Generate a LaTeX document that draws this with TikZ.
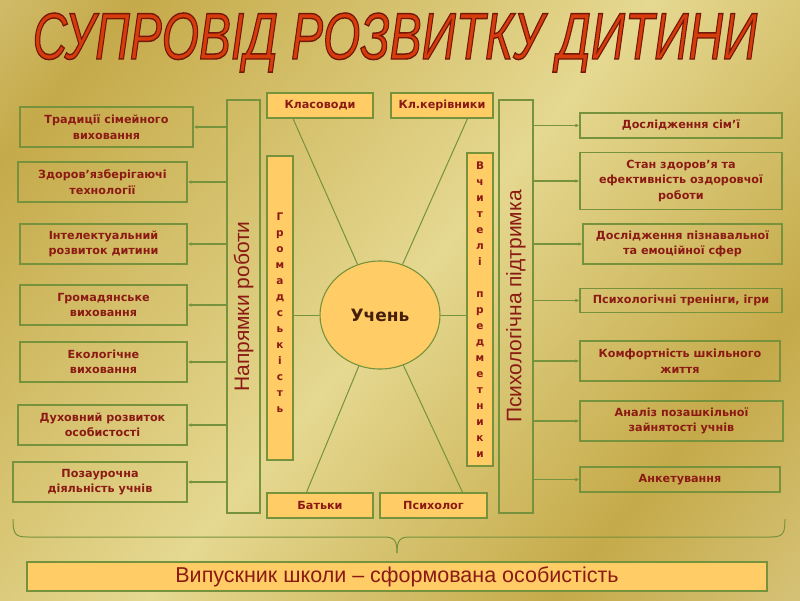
\documentclass[tikz,border=0pt]{standalone}
\usepackage{fontspec}
\usepackage{graphicx}
\setmainfont{DejaVu Sans}
\newfontfamily\arialf{Liberation Sans}
\usetikzlibrary{arrows.meta,calc,shapes.geometric}
\definecolor{bgL}{HTML}{E8DDA8}
\definecolor{bgD}{HTML}{C5AA4A}
\definecolor{bgM}{HTML}{E5D890}
\definecolor{grn}{RGB}{118,146,60}
\definecolor{dred}{RGB}{140,26,20}
\definecolor{orf}{RGB}{255,204,102}
\definecolor{tred}{RGB}{214,60,12}
\definecolor{uchc}{RGB}{70,30,12}
\pgfdeclarehorizontalshading{bgshade}{100bp}{color(0bp)=(bgL); color(22bp)=(bgD); color(50bp)=(bgM); color(72bp)=(bgD); color(100bp)=(bgL)}
\newcommand\boxfont{\fontsize{11.2}{15.5}\selectfont\bfseries}
\newcommand\ttltext{{\arialf\itshape\fontsize{66}{66}\selectfont\scalebox{0.725}[1]{\special{pdf:literal direct 2 Tr 1.4 w 0.45 0.09 0.03 RG}СУПРОВІД РОЗВИТКУ ДИТИНИ\special{pdf:literal direct 0 Tr}}}}
\tikzset{
  side/.style={draw=grn, line width=1.1pt, text=dred, font=\boxfont, align=center, inner sep=2pt},
  ora/.style={side, fill=orf},
  cbox/.style={ora, font=\fontsize{11.2}{12}\selectfont\bfseries, minimum height=25pt},
  stack/.style={ora, font=\fontsize{10.5}{16}\selectfont\bfseries},
  barbox/.style={draw=grn, line width=1.1pt, text=dred, inner sep=0pt, font=\arialf\fontsize{21}{21}\selectfont},
  arr/.style={draw=grn, line width=1.3pt, -{Latex[length=4pt,width=3.5pt]}},
  ln/.style={draw=grn, line width=1pt},
}
\begin{document}
\begin{tikzpicture}[x=1pt,y=-1pt]
\useasboundingbox (0,0) rectangle (800,600);
\shade[shading=bgshade, shading angle=-40] (0,0) rectangle (800,600);

% title
\node[text=tred, anchor=base, inner sep=0pt] (title) at (395,59) {\ttltext};

% bars
\node[barbox, minimum width=33pt, minimum height=413pt] (barL) at (243.5,306.5) {\rotatebox{90}{Напрямки роботи}};
\node[barbox, minimum width=34pt, minimum height=413pt] (barR) at (516,306.5) {\rotatebox{90}{Психологічна підтримка}};

% left boxes
\node[side, minimum width=173pt, minimum height=40pt] (L1) at (106.5,127) {Традиції сімейного\\виховання};
\node[side, minimum width=169pt, minimum height=40pt] (L2) at (102.5,182) {Здоров’язберігаючі\\технології};
\node[side, minimum width=167pt, minimum height=40pt] (L3) at (103.5,244) {Інтелектуальний\\розвиток дитини};
\node[side, minimum width=167pt, minimum height=40pt] (L4) at (103.5,305) {Громадянське\\виховання};
\node[side, minimum width=167pt, minimum height=40pt] (L5) at (103.5,362) {Екологічне\\виховання};
\node[side, minimum width=169pt, minimum height=40pt] (L6) at (102.5,425) {Духовний розвиток\\особистості};
\node[side, minimum width=174pt, minimum height=40pt] (L7) at (100,482) {Позаурочна\\діяльність учнів};
\foreach \n in {L1,L2,L3,L4,L5,L6,L7}
  \draw[arr] (barL.west |- \n.east) -- (\n.east);

% right boxes
\node[side, minimum width=202pt, minimum height=25pt] (R1) at (681,125.5) {Дослідження сім’ї};
\node[side, minimum width=202pt, minimum height=57pt] (R2) at (681,181) {Стан здоров’я та\\ефективність оздоровчої\\роботи};
\node[side, minimum width=199pt, minimum height=40pt] (R3) at (682.5,244) {Дослідження пізнавальної\\та емоційної сфер};
\node[side, minimum width=202pt, minimum height=24pt] (R4) at (681,300.5) {Психологічні тренінги, ігри};
\node[side, minimum width=200pt, minimum height=40pt] (R5) at (680,361) {Комфортність шкільного\\життя};
\node[side, minimum width=203pt, minimum height=40pt] (R6) at (681.5,421) {Аналіз позашкільної\\зайнятості учнів};
\node[side, minimum width=200pt, minimum height=25pt] (R7) at (680,479.5) {Анкетування};
\foreach \n in {R1,R2,R3,R4,R5,R6,R7}
  \draw[arr] (barR.east |- \n.west) -- (\n.west);

% centre
\node[cbox, minimum width=106pt] (klas) at (320,105.5) {Класоводи};
\node[cbox, minimum width=102pt] (kker) at (442,105.5) {Кл.керівники};
\node[cbox, minimum width=106pt] (batk) at (320,505.5) {Батьки};
\node[cbox, minimum width=107pt] (psyh) at (433.5,505.5) {Психолог};
\node[stack, minimum width=26pt, minimum height=304pt] (grom) at (280,308) {~\\Г\\р\\о\\м\\а\\д\\с\\ь\\к\\і\\с\\т\\ь};
\node[stack, minimum width=26pt, minimum height=313pt] (vchy) at (480,309.5) {В\\ч\\и\\т\\е\\л\\і\\~\\п\\р\\е\\д\\м\\е\\т\\н\\и\\к\\и};
\node[ellipse, draw=grn, line width=1.1pt, fill=orf, minimum width=120pt, minimum height=108pt, inner sep=0pt, text=uchc, font=\fontsize{17}{17}\selectfont\bfseries] (uch) at (380,315) {Учень};

\draw[ln] ([xshift=-27pt]klas.south) -- (uch);
\draw[ln] ([xshift=-26pt]kker.south east) -- (uch);
\draw[ln] ([xshift=40pt]batk.north west) -- (uch);
\draw[ln] ([xshift=-25pt]psyh.north east) -- (uch);
\draw[ln] (grom.east |- uch) -- (uch.west);
\draw[ln] (uch.east) -- (vchy.west |- uch);

% brace
\coordinate (brL) at (13,519);
\coordinate (brR) at (785,519);
\coordinate (brT) at (397,553);
\draw[ln] (brL) .. controls (13,534) and (15,537) .. (28,537) -- (384,537) .. controls (394,537) and (397,540) .. (brT);
\draw[ln] (brR) .. controls (785,534) and (783,537) .. (770,537) -- (410,537) .. controls (400,537) and (397,540) .. (brT);

% bottom box
\node[ora, minimum width=740pt, minimum height=29pt, font=\arialf\fontsize{21.5}{21.5}\selectfont] (grad) at (397,576.5) {Випускник школи – сформована особистість};
\end{tikzpicture}
\end{document}
